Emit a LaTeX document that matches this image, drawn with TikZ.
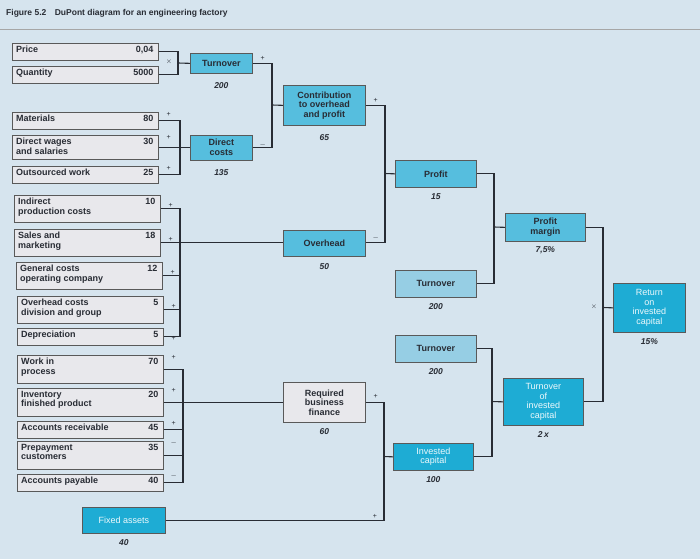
\documentclass[tikz,border=0pt]{standalone}
\usepackage{fontspec}
\setmainfont{Liberation Sans}
\usetikzlibrary{calc}
\definecolor{bg}{RGB}{214,228,238}
\definecolor{teal}{RGB}{86,190,222}
\definecolor{lteal}{RGB}{150,206,228}
\definecolor{dteal}{RGB}{30,172,212}
\definecolor{pale}{RGB}{232,232,236}
\definecolor{ink}{RGB}{40,44,52}
\begin{document}
\begin{tikzpicture}[x=1pt,y=-1pt,
  every node/.style={font=\fontsize{9}{9.5}\selectfont\bfseries, text=ink, inner sep=0pt},
  bx/.style={draw=gray!70!black, line width=0.7pt, anchor=north west},
  lbox/.style={bx, fill=pale},
  tbox/.style={bx, fill=teal, align=center},
  ubox/.style={bx, fill=lteal, align=center},
  wbox/.style={bx, fill=pale, align=center},
  dbox/.style={bx, fill=dteal, align=center, text=white!90!teal, font=\fontsize{9}{9.5}\selectfont},
  val/.style={font=\fontsize{8.5}{9}\selectfont\bfseries\itshape},
  sg/.style={font=\fontsize{7}{7}\selectfont, text=ink},
  ln/.style={draw=ink, line width=1.1pt}]
\fill[bg] (0,0) rectangle (700,559);
\useasboundingbox (0,0) rectangle (700,559);
\node[anchor=west, font=\fontsize{8.5}{9}\selectfont\bfseries] (title) at (6,13) {Figure 5.2\quad DuPont diagram for an engineering factory};
\draw[gray!70, line width=0.8pt] (0,29) -- (700,29);
\newcommand\lb[5]{%
  \node[lbox, minimum width=#4, minimum height=#5] (#1) at (#2,#3) {};}
\newcommand\lt[3]{%
  \node[anchor=north west, align=left] at ($(#1.north west)+(4,3)$) {#2};
  \node[anchor=north east] at ($(#1.north east)+(-5,3)$) {#3};}
\lb{price}{12}{43}{146pt}{17pt}\lt{price}{Price}{0,04}
\lb{qty}{12}{66}{146pt}{17pt}\lt{qty}{Quantity}{5000}
\lb{mat}{12}{112}{146pt}{17pt}\lt{mat}{Materials}{80}
\lb{dw}{12}{135}{146pt}{24pt}\lt{dw}{Direct wages\\and salaries}{30}
\lb{out}{12}{166}{146pt}{17pt}\lt{out}{Outsourced work}{25}
\lb{ipc}{14}{195}{146pt}{27pt}\lt{ipc}{Indirect\\production costs}{10}
\lb{sm}{14}{229}{146pt}{27pt}\lt{sm}{Sales and\\marketing}{18}
\lb{gc}{16}{262}{146pt}{27pt}\lt{gc}{General costs\\operating company}{12}
\lb{ohc}{17}{296}{146pt}{27pt}\lt{ohc}{Overhead costs\\division and group}{5}
\lb{dep}{17}{328}{146pt}{17pt}\lt{dep}{Depreciation}{5}
\lb{wip}{17}{355}{146pt}{28pt}\lt{wip}{Work in\\process}{70}
\lb{inv}{17}{388}{146pt}{28pt}\lt{inv}{Inventory\\finished product}{20}
\lb{ar}{17}{421}{146pt}{17pt}\lt{ar}{Accounts receivable}{45}
\lb{pc}{17}{441}{146pt}{28pt}\lt{pc}{Prepayment\\customers}{35}
\lb{ap}{17}{474}{146pt}{17pt}\lt{ap}{Accounts payable}{40}
% mid boxes
\node[tbox, minimum width=62pt, minimum height=20pt] (to1) at (190,53) {Turnover};
\node[val] at ($(to1.south)+(0,12)$) {200};
\node[tbox, minimum width=62pt, minimum height=25pt] (dc) at (190,134.5) {Direct\\costs};
\node[val] at ($(dc.south)+(0,12)$) {135};
\node[tbox, minimum width=82pt, minimum height=40pt] (cop) at (283,85) {Contribution\\to overhead\\and profit};
\node[val] at ($(cop.south)+(0,12)$) {65};
\node[tbox, minimum width=82pt, minimum height=26pt] (oh) at (283,229.5) {Overhead};
\node[val] at ($(oh.south)+(0,10)$) {50};
\node[wbox, minimum width=82pt, minimum height=40pt] (rbf) at (283,382) {Required\\business\\finance};
\node[val] at ($(rbf.south)+(0,9)$) {60};
\node[dbox, minimum width=83pt, minimum height=26pt] (fa) at (82,507) {Fixed assets};
\node[val] at ($(fa.south)+(0,9)$) {40};
\node[tbox, minimum width=81pt, minimum height=27pt] (pr) at (395,160) {Profit};
\node[val] at ($(pr.south)+(0,9)$) {15};
\node[ubox, minimum width=81pt, minimum height=27pt] (to2) at (395,270) {Turnover};
\node[val] at ($(to2.south)+(0,9)$) {200};
\node[ubox, minimum width=81pt, minimum height=27pt] (to3) at (395,335) {Turnover};
\node[val] at ($(to3.south)+(0,9)$) {200};
\node[dbox, minimum width=80pt, minimum height=27pt] (ic) at (393,443) {Invested\\capital};
\node[val] at ($(ic.south)+(0,9)$) {100};
\node[tbox, minimum width=80pt, minimum height=28pt] (pm) at (505,213) {Profit\\margin};
\node[val] at ($(pm.south)+(0,9)$) {7,5\%};
\node[dbox, minimum width=80pt, minimum height=47pt] (toic) at (503,378) {Turnover\\of\\invested\\capital};
\node[val] at ($(toic.south)+(0,9)$) {2\,x};
\node[dbox, minimum width=72pt, minimum height=49pt] (roic) at (613,283) {Return\\on\\invested\\capital};
\node[val] at ($(roic.south)+(0,9)$) {15\%};
% connectors
\coordinate (b1) at (178,63);
\draw[ln] (price.east) -| (b1); \draw[ln] (qty.east) -| (b1); \draw[ln] (b1) -- (to1.west);
\node[sg] at (169,62) {$\times$};
\coordinate (b2) at (180,147);
\draw[ln] (mat.east) -| (b2); \draw[ln] (out.east) -| (b2); \draw[ln] (dw.east) -- (dc.west);
\foreach \n in {mat,dw,out}{\node[sg] at ($(\n.north east)+(10,2)$) {+};}
\coordinate (b3) at (272,105);
\draw[ln] (to1.east) -| (b3); \draw[ln] (dc.east) -| (b3); \draw[ln] (b3) -- (cop.west);
\node[sg] at ($(to1.east)+(10,-5)$) {+}; \node[sg] at ($(dc.east)+(10,-3)$) {$-$};
\coordinate (b4) at (180,242.5);
\draw[ln] (ipc.east) -| (b4); \draw[ln] (dep.east) -| (b4);
\draw[ln] (gc.east) -- (gc.east -| b4); \draw[ln] (ohc.east) -- (ohc.east -| b4);
\draw[ln] (sm.east) -- (oh.west);
\foreach \n in {ipc,sm,gc,ohc,dep}{\node[sg] at ($(\n.north east)+(10,10)$) {+};}
\coordinate (b5) at (385,173.5);
\draw[ln] (cop.east) -| (b5); \draw[ln] (oh.east) -| (b5); \draw[ln] (b5) -- (pr.west);
\node[sg] at ($(cop.east)+(10,-5)$) {+}; \node[sg] at ($(oh.east)+(10,-5)$) {$-$};
\coordinate (b6) at (183,402);
\draw[ln] (wip.east) -| (b6); \draw[ln] (ap.east) -| (b6);
\draw[ln] (ar.east) -- (ar.east -| b6); \draw[ln] (pc.east) -- (pc.east -| b6);
\draw[ln] (inv.east) -- (rbf.west);
\foreach \n/\s in {wip/+,inv/+,ar/+,pc/$-$,ap/$-$}{\node[sg] at ($(\n.north east)+(10,2)$) {\s};}
\coordinate (b7) at (384,456.5);
\draw[ln] (rbf.east) -| (b7); \draw[ln] (fa.east) -| (b7); \draw[ln] (b7) -- (ic.west);
\node[sg] at ($(rbf.east)+(10,-6)$) {+}; \node[sg] at ($(fa.east -| b7)+(-9,-4)$) {+};
\coordinate (b8) at (494,227);
\draw[ln] (pr.east) -| (b8); \draw[ln] (to2.east) -| (b8); \draw[ln] (b8) -- (pm.west);
\coordinate (b9) at (492,401.5);
\draw[ln] (to3.east) -| (b9); \draw[ln] (ic.east) -| (b9); \draw[ln] (b9) -- (toic.west);
\coordinate (b10) at (603,307.5);
\draw[ln] (pm.east) -| (b10); \draw[ln] (toic.east) -| (b10); \draw[ln] (b10) -- (roic.west);
\node[sg] at (594,307) {$\times$};
\end{tikzpicture}
\end{document}
